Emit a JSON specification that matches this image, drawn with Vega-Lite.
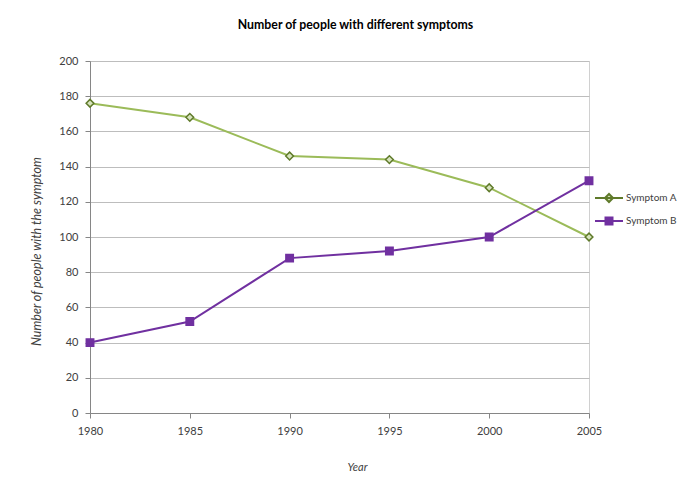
{
  "$schema": "https://vega.github.io/schema/vega-lite/v6.json",
  "autosize": {"type": "none"},
  "width": 499,
  "height": 352,
  "padding": {"left": 90, "top": 61, "right": 88, "bottom": 78},
  "background": "white",
  "title": {
    "text": "Number of people with different symptoms",
    "font": "Lato",
    "fontSize": 12.3,
    "fontWeight": "bold",
    "color": "#000000",
    "anchor": "middle",
    "dx": 16,
    "offset": 24
  },
  "data": {
    "values": [
      {"Year": 1980, "Series": "Symptom A", "Value": 176},
      {"Year": 1985, "Series": "Symptom A", "Value": 168},
      {"Year": 1990, "Series": "Symptom A", "Value": 146},
      {"Year": 1995, "Series": "Symptom A", "Value": 144},
      {"Year": 2000, "Series": "Symptom A", "Value": 128},
      {"Year": 2005, "Series": "Symptom A", "Value": 100},
      {"Year": 1980, "Series": "Symptom B", "Value": 40},
      {"Year": 1985, "Series": "Symptom B", "Value": 52},
      {"Year": 1990, "Series": "Symptom B", "Value": 88},
      {"Year": 1995, "Series": "Symptom B", "Value": 92},
      {"Year": 2000, "Series": "Symptom B", "Value": 100},
      {"Year": 2005, "Series": "Symptom B", "Value": 132}
    ]
  },
  "encoding": {
    "x": {
      "field": "Year",
      "type": "quantitative",
      "scale": {"domain": [1980, 2005], "nice": false, "zero": false},
      "axis": {
        "values": [1980, 1985, 1990, 1995, 2000, 2005],
        "format": "d",
        "grid": false,
        "title": "Year",
        "titleFontStyle": "italic",
        "titleFontWeight": "normal",
        "titleFontSize": 11,
        "titleX": 267,
        "titleY": 54,
        "titleAlign": "center",
        "titleBaseline": "middle",
        "labelPadding": 7,
        "labelFlush": false
      }
    },
    "y": {
      "field": "Value",
      "type": "quantitative",
      "scale": {"domain": [0, 200], "nice": false},
      "axis": {
        "values": [0, 20, 40, 60, 80, 100, 120, 140, 160, 180, 200],
        "grid": true,
        "title": "Number of people with the symptom",
        "titleFontStyle": "italic",
        "titleFontWeight": "normal",
        "titleFontSize": 12.5,
        "titleX": -54,
        "titleY": 190,
        "titleAngle": -90,
        "titleAlign": "center",
        "titleBaseline": "middle",
        "labelPadding": 7
      }
    }
  },
  "layer": [
    {
      "mark": {"type": "line", "strokeWidth": 2},
      "encoding": {
        "color": {
          "field": "Series",
          "type": "nominal",
          "scale": {"domain": ["Symptom A", "Symptom B"], "range": ["#9BBB59", "#7030A0"]},
          "legend": null
        }
      }
    },
    {
      "transform": [{"filter": "datum.Series === 'Symptom A'"}],
      "mark": {"type": "point", "shape": "diamond", "fill": "#d7e4bd", "size": 60, "strokeWidth": 1.5, "opacity": 1, "fillOpacity": 1},
      "encoding": {
        "stroke": {
          "field": "Series",
          "type": "nominal",
          "scale": {"domain": ["Symptom A"], "range": ["#5f7a2a"]},
          "legend": {
            "title": null,
            "orient": "none",
            "legendX": 513,
            "legendY": 131,
            "padding": 0,
            "symbolSize": 100,
            "symbolType": "M-2.8,0H2.8M-0.8,0L0,-0.8L0.8,0L0,0.8Z",
            "symbolStrokeWidth": 2,
            "symbolOpacity": 1,
            "labelOffset": 11,
            "labelFont": "Lato",
            "labelFontSize": 10,
            "labelColor": "#404040"
          }
        }
      }
    },
    {
      "transform": [{"filter": "datum.Series === 'Symptom B'"}],
      "mark": {"type": "point", "shape": "square", "fill": "#7030A0", "size": 55, "strokeWidth": 1.5, "opacity": 1, "fillOpacity": 1},
      "encoding": {
        "stroke": {
          "field": "Series",
          "type": "nominal",
          "scale": {"domain": ["Symptom B"], "range": ["#7030A0"]},
          "legend": {
            "title": null,
            "orient": "none",
            "legendX": 513,
            "legendY": 154,
            "padding": 0,
            "symbolSize": 100,
            "symbolType": "M-2.8,0H2.8M-0.7,-0.7H0.7V0.7H-0.7Z",
            "symbolStrokeWidth": 2,
            "symbolOpacity": 1,
            "labelOffset": 11,
            "labelFont": "Lato",
            "labelFontSize": 10,
            "labelColor": "#404040"
          }
        }
      }
    }
  ],
  "resolve": {"scale": {"color": "independent", "stroke": "independent"}, "legend": {"color": "independent", "stroke": "independent"}},
  "config": {
    "view": {"stroke": "#d0d0d0", "strokeWidth": 1},
    "axis": {
      "labelFont": "Lato",
      "labelFontSize": 11,
      "labelColor": "#404040",
      "titleFont": "Lato",
      "titleFontSize": 10,
      "titleColor": "#404040",
      "domainColor": "#868686",
      "tickColor": "#868686",
      "tickSize": 5,
      "gridColor": "#bdbdbd",
      "gridWidth": 1
    }
  }
}
